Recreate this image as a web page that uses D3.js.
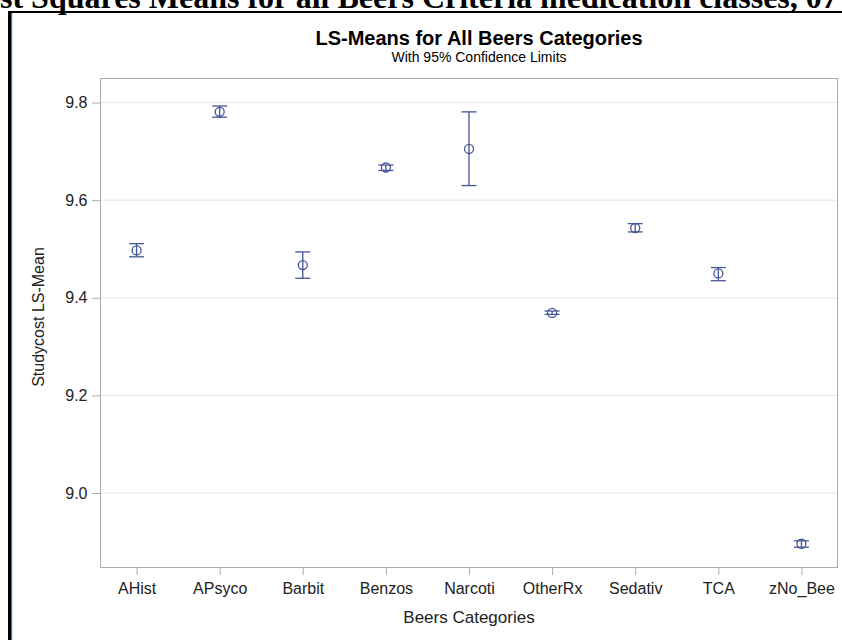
<!DOCTYPE html>
<html><head><meta charset="utf-8">
<script src="https://cdn.jsdelivr.net/npm/d3@7"></script>
<style>body{margin:0;background:#fff}svg{display:block}</style>
</head><body>
<script>
const categories = ["AHist","APsyco","Barbit","Benzos","Narcoti","OtherRx","Sedativ","TCA","zNo_Bee"];
const lsMeans   = [9.497, 9.781, 9.467, 9.667, 9.705, 9.369, 9.543, 9.450, 8.896];
const lowerCL   = [9.484, 9.770, 9.440, 9.661, 9.630, 9.366, 9.535, 9.435, 8.889];
const upperCL   = [9.511, 9.793, 9.494, 9.672, 9.781, 9.373, 9.552, 9.462, 8.902];
const yTicks    = [9.0, 9.2, 9.4, 9.6, 9.8];
const headerText = "Least Squares Means for all Beers Criteria medication classes, 07";

const W = 842, H = 640;
const svg = d3.select("body").append("svg").attr("width", W).attr("height", H);
const col = "#445694";
const pL = 100, pR = 838, pT = 78, pB = 568;
const sans = "Liberation Sans, Arial, sans-serif";

const x = d3.scalePoint().domain(categories).range([pL, pR]).padding(0.44);
const y = d3.scaleLinear().domain([9.0, 9.8]).range([493, 102.6]);

// header (cropped document text)
const hdr = svg.append("text").attr("y", 8).attr("font-family", "Liberation Serif, Times New Roman, serif")
  .attr("font-weight", "bold").attr("font-size", 32).attr("fill", "#000").text(headerText);
const tmp = svg.append("text").attr("font-family", "Liberation Serif, serif").attr("font-weight", "bold")
  .attr("font-size", 32).text("Lea");
const off = tmp.node().getComputedTextLength(); tmp.remove();
hdr.attr("x", -off);

// outer black frame (cropped)
svg.append("rect").attr("x", 11).attr("y", 12).attr("width", 1.2).attr("height", H).attr("fill", "#2a7fc0");
svg.append("rect").attr("x", 8).attr("y", 11).attr("width", 3).attr("height", H).attr("fill", "#000");
svg.append("rect").attr("x", 8).attr("y", 11).attr("width", W).attr("height", 2).attr("fill", "#000");

// titles
svg.append("text").attr("x", 479).attr("y", 45).attr("text-anchor", "middle")
  .attr("font-family", sans).attr("font-weight", "bold").attr("font-size", 20)
  .attr("fill", "#000").text("LS-Means for All Beers Categories");
svg.append("text").attr("x", 479).attr("y", 62).attr("text-anchor", "middle")
  .attr("font-family", sans).attr("font-size", 14)
  .attr("fill", "#000").text("With 95% Confidence Limits");

// gridlines
svg.append("g").selectAll("line").data(yTicks).join("line")
  .attr("x1", pL).attr("x2", pR).attr("y1", d => y(d)).attr("y2", d => y(d))
  .attr("stroke", "#e6e6e6").attr("stroke-width", 1);

// frame
svg.append("rect").attr("x", pL + 0.5).attr("y", pT + 0.5).attr("width", pR - pL - 1).attr("height", pB - pT - 1)
  .attr("fill", "none").attr("stroke", "#a9adb3").attr("stroke-width", 1);

// axes
const yAxis = svg.append("g").attr("transform", `translate(${pL},0)`)
  .call(d3.axisLeft(y).tickValues(yTicks).tickFormat(d3.format(".1f")).tickSize(8).tickPadding(4.5));
const xAxis = svg.append("g").attr("transform", `translate(0,${pB})`)
  .call(d3.axisBottom(x).tickSize(7).tickPadding(7.5));
[yAxis, xAxis].forEach(a => {
  a.select(".domain").remove();
  a.selectAll(".tick line").attr("stroke", "#a9adb3");
  a.selectAll(".tick text").attr("font-family", sans).attr("font-size", 16).attr("fill", "#222");
});

svg.append("text").attr("x", 469).attr("y", 623).attr("text-anchor", "middle")
  .attr("font-family", sans).attr("font-size", 17).attr("fill", "#222").text("Beers Categories");
svg.append("text").attr("transform", "translate(43.5,317) rotate(-90)").attr("text-anchor", "middle")
  .attr("font-family", sans).attr("font-size", 16).attr("fill", "#222").text("Studycost LS-Mean");

// error bars
const g = svg.append("g");
const data = categories.map((c, i) => ({c, m: lsMeans[i], lo: lowerCL[i], hi: upperCL[i]}));
g.selectAll(".bar").data(data).join("line").attr("class", "bar")
  .attr("x1", d => x(d.c)).attr("x2", d => x(d.c)).attr("y1", d => y(d.lo)).attr("y2", d => y(d.hi))
  .attr("stroke", col).attr("stroke-width", 1.3);
["lo", "hi"].forEach(k => {
  g.selectAll(".cap" + k).data(data).join("line").attr("class", "cap" + k)
    .attr("x1", d => x(d.c) - 7.5).attr("x2", d => x(d.c) + 7.5).attr("y1", d => y(d[k])).attr("y2", d => y(d[k]))
    .attr("stroke", col).attr("stroke-width", 1.3);
});
g.selectAll("circle").data(data).join("circle")
  .attr("cx", d => x(d.c)).attr("cy", d => y(d.m)).attr("r", 4.5)
  .attr("fill", "none").attr("stroke", col).attr("stroke-width", 1.3);
</script>
</body></html>
